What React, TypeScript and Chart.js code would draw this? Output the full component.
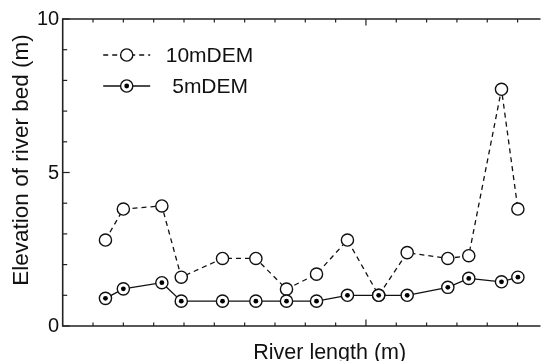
import React, { useEffect, useRef } from "react";
import { Chart, registerables } from "chart.js";

Chart.register(...registerables);

// River length positions (arbitrary units along the axis)
const riverX = [1.41, 2.0, 3.27, 3.91, 5.27, 6.37, 7.38, 8.37, 9.39, 10.42, 11.36, 12.7, 13.39, 14.47, 15.01];
const dem10 = [2.8, 3.81, 3.91, 1.59, 2.2, 2.2, 1.2, 1.69, 2.8, 1.0, 2.39, 2.2, 2.29, 7.71, 3.81];
const dem5 = [0.9, 1.21, 1.41, 0.81, 0.81, 0.81, 0.81, 0.81, 1.0, 1.0, 1.0, 1.26, 1.55, 1.44, 1.59];
const seriesNames = ["10mDEM", "5mDEM"];
const yTickLabels = ["0", "5", "10"];
const yMinorTicks = [1, 2, 3, 4, 6, 7, 8, 9];
const xMinorTicks = [1, 2, 3, 4, 5, 6, 7, 8, 9, 11, 12, 13, 14, 15];
const xMajorTicks = [10];
const xTitle = "River length (m)";
const yTitle = "Elevation of river bed (m)";

const FONT = '"Liberation Sans", Arial, sans-serif';
const AXIS = "#222";
const R = 6.1;
const DOT = 2.4;

const axesPlugin = {
  id: "customAxes",
  afterDatasetsDraw(chart: any) {
    const { ctx, chartArea } = chart;
    const xs = chart.scales.x;
    const ys = chart.scales.y;
    const { left, right, top, bottom } = chartArea;
    ctx.save();
    ctx.strokeStyle = AXIS;
    ctx.lineWidth = 1.6;
    ctx.beginPath();
    ctx.moveTo(right + 2, top);
    ctx.lineTo(left, top);
    ctx.lineTo(left, bottom);
    ctx.lineTo(right + 2, bottom);
    ctx.stroke();
    ctx.lineWidth = 1.2;
    const xt = (v: number, len: number) => {
      const px = xs.getPixelForValue(v);
      ctx.beginPath();
      ctx.moveTo(px, bottom);
      ctx.lineTo(px, bottom - len);
      ctx.moveTo(px, top);
      ctx.lineTo(px, top + len);
      ctx.stroke();
    };
    xMinorTicks.forEach((v) => xt(v, 3.5));
    xMajorTicks.forEach((v) => xt(v, 6.5));
    const yt = (v: number, len: number) => {
      const py = ys.getPixelForValue(v);
      ctx.beginPath();
      ctx.moveTo(left, py);
      ctx.lineTo(left + len, py);
      ctx.stroke();
    };
    yMinorTicks.forEach((v) => yt(v, 4.5));
    yTickLabels.forEach((l) => yt(Number(l), 7));
    ctx.fillStyle = "#111";
    ctx.font = `20px ${FONT}`;
    ctx.textAlign = "right";
    ctx.textBaseline = "middle";
    yTickLabels.forEach((l) => {
      ctx.fillText(l, left - 3.5, ys.getPixelForValue(Number(l)) + 0.5);
    });
    ctx.font = `21.5px ${FONT}`;
    ctx.textAlign = "center";
    ctx.textBaseline = "alphabetic";
    ctx.fillText(xTitle, left + 267, 358.5);
    ctx.save();
    ctx.translate(28, 160);
    ctx.rotate(-Math.PI / 2);
    ctx.font = `22.5px ${FONT}`;
    ctx.fillText(yTitle, 0, 0);
    ctx.restore();

    const marker = (cx: number, cy: number, dot: boolean) => {
      ctx.beginPath();
      ctx.arc(cx, cy, R, 0, Math.PI * 2);
      ctx.fillStyle = "#fff";
      ctx.fill();
      ctx.lineWidth = 1.4;
      ctx.strokeStyle = "#111";
      ctx.stroke();
      if (dot) {
        ctx.beginPath();
        ctx.arc(cx, cy, DOT, 0, Math.PI * 2);
        ctx.fillStyle = "#000";
        ctx.fill();
      }
    };
    const lx = left + 40.5;
    const rows = [
      { y: top + 36, dash: [5, 4], dot: false, tx: left + 103 },
      { y: top + 67, dash: [], dot: true, tx: left + 109.5 },
    ];
    rows.forEach((r, i) => {
      ctx.strokeStyle = "#111";
      ctx.lineWidth = 1.3;
      ctx.setLineDash(r.dash);
      ctx.beginPath();
      ctx.moveTo(lx, r.y);
      ctx.lineTo(lx + 47, r.y);
      ctx.stroke();
      ctx.setLineDash([]);
      marker(lx + 23.5, r.y, r.dot);
      ctx.fillStyle = "#111";
      ctx.font = `21px ${FONT}`;
      ctx.textAlign = "left";
      ctx.textBaseline = "middle";
      ctx.fillText(seriesNames[i], r.tx, r.y + 1);
    });
    ctx.restore();
  },
};

export default function App() {
  const ref = useRef<HTMLCanvasElement>(null);
  useEffect(() => {
    if (!ref.current) return;
    const pts = (ys: number[]) => riverX.map((x, i) => ({ x, y: ys[i] }));
    const chart = new Chart(ref.current, {
      type: "line",
      data: {
        datasets: [
          {
            label: "5mDEM dot",
            data: pts(dem5),
            showLine: false,
            pointRadius: DOT,
            pointBackgroundColor: "#000",
            pointBorderWidth: 0,
            order: 0,
          },
          {
            label: seriesNames[1],
            data: pts(dem5),
            borderColor: "#111",
            borderWidth: 1.3,
            pointRadius: R,
            pointBackgroundColor: "#fff",
            pointBorderColor: "#111",
            pointBorderWidth: 1.4,
            tension: 0,
            order: 1,
          },
          {
            label: seriesNames[0],
            data: pts(dem10),
            borderColor: "#111",
            borderWidth: 1.3,
            borderDash: [5, 4],
            pointRadius: R,
            pointBackgroundColor: "#fff",
            pointBorderColor: "#111",
            pointBorderWidth: 1.4,
            tension: 0,
            order: 2,
          },
        ],
      },
      options: {
        responsive: false,
        animation: false,
        layout: { padding: { left: 62.7, top: 19, right: 0, bottom: 35 } },
        plugins: { legend: { display: false }, tooltip: { enabled: false } },
        scales: {
          x: { type: "linear", min: 0, max: 15.69, display: false },
          y: { type: "linear", min: 0, max: 10, display: false },
        },
      },
      plugins: [axesPlugin],
    });
    return () => chart.destroy();
  }, []);
  return (
    <div style={{ position: "fixed", left: 0, top: 0, width: 546, height: 361, background: "#fff" }}>
      <canvas ref={ref} width={546} height={361} style={{ display: "block" }} />
    </div>
  );
}
